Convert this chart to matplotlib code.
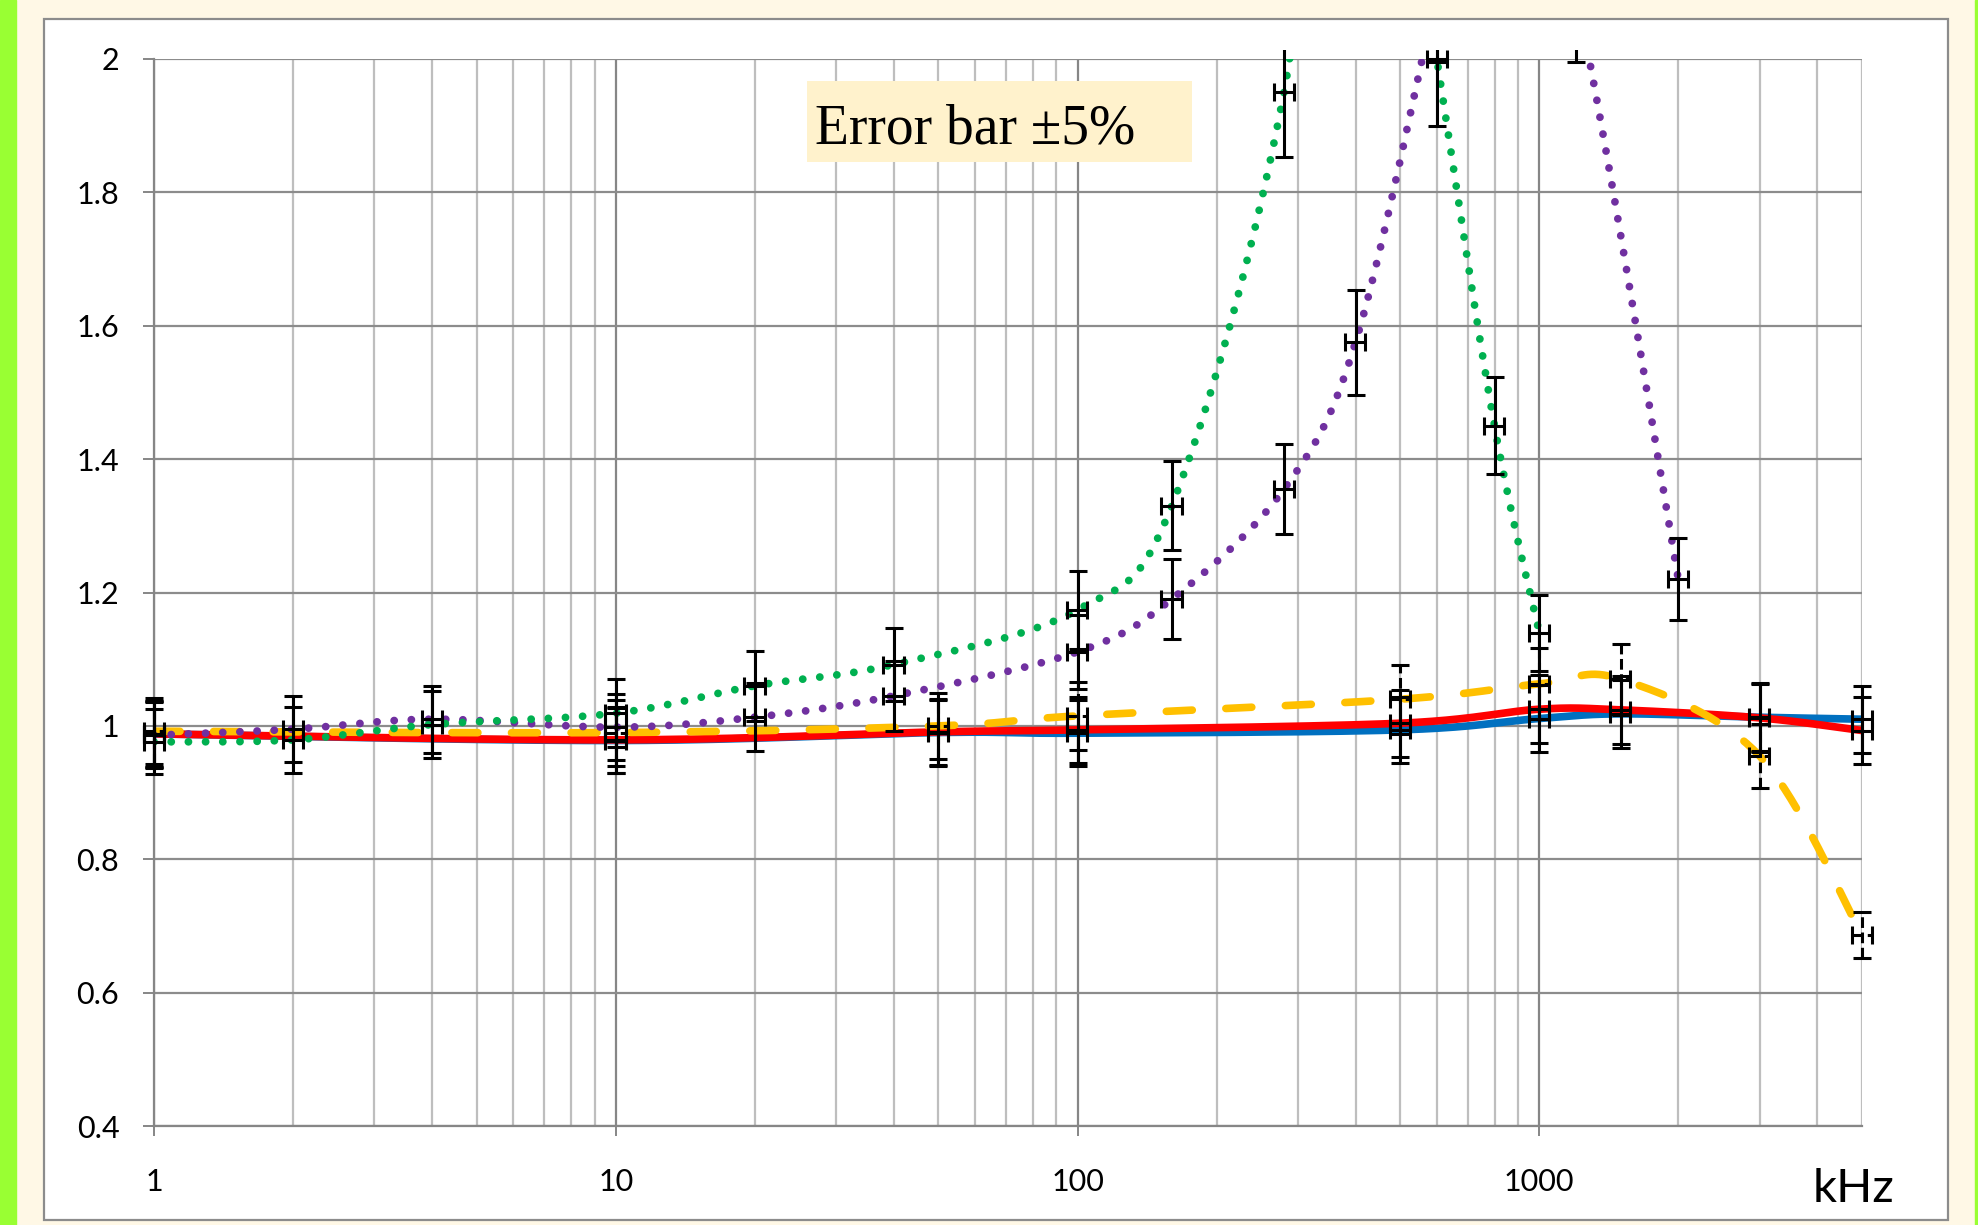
import numpy as np
import matplotlib
matplotlib.use('Agg')
import matplotlib.pyplot as plt
from matplotlib.patches import Rectangle
from matplotlib.ticker import LogLocator, NullFormatter

# frequencies (kHz) and ratios
freq_main = [1, 10, 50, 100, 500, 1000, 1500, 3000, 5000]
blue_vals = [0.988, 0.978, 0.99, 0.989, 0.994, 1.011, 1.018, 1.013, 1.01]
red_vals = [0.988, 0.979, 0.991, 0.994, 1.004, 1.025, 1.024, 1.012, 0.993]
yellow_vals = [0.992, 0.99, 1.0, 1.015, 1.04, 1.063, 1.07, 0.955, 0.686]

freq_green = [1, 2, 4, 10, 20, 40, 100, 160, 280, 400, 600, 800, 1000]
green_vals = [0.976, 0.979, 1.002, 1.019, 1.06, 1.092, 1.174, 1.33, 1.95, 2.8, 2.0, 1.45, 1.14]

freq_purple = [1, 2, 4, 10, 20, 40, 100, 160, 280, 400, 600, 800, 1200, 2000]
purple_vals = [0.986, 0.995, 1.01, 0.998, 1.013, 1.045, 1.111, 1.19, 1.355, 1.575, 2.1, 2.5, 2.1, 1.22]

y_ticks = [0.4, 0.6, 0.8, 1.0, 1.2, 1.4, 1.6, 1.8, 2.0]
y_labels = ['0.4', '0.6', '0.8', '1', '1.2', '1.4', '1.6', '1.8', '2']
x_ticks = [1, 10, 100, 1000]
x_labels = ['1', '10', '100', '1000']

W, H = 1978, 1225
fig = plt.figure(figsize=(W / 100, H / 100), dpi=100, facecolor='#FFF8E6')

# side strips and chart area frame
fig.patches.append(Rectangle((0, 0), 16 / W, 1, transform=fig.transFigure,
                             color='#99FF33', zorder=-2))
fig.patches.append(Rectangle((1975 / W, 0), 3 / W, 1, transform=fig.transFigure,
                             color='#99FF33', zorder=-2))
fig.patches.append(Rectangle((44 / W, 5 / H), 1904 / W, 1201 / H,
                             transform=fig.transFigure, facecolor='white',
                             edgecolor='#8C8C8C', lw=1.6, zorder=-1))

ax = fig.add_axes([154 / W, 1 - 1126 / H, (1862 - 154) / W, (1126 - 59) / H])
ax.set_facecolor('white')
ax.set_xscale('log')
ax.set_xlim(1, 5000)
ax.set_ylim(0.4, 2.0)


def smooth(xs, ys, n=40):
    # Excel-style smoothed line, built in display space
    pts = ax.transData.transform(np.column_stack([xs, ys]))
    p = np.vstack([pts[0], pts, pts[-1]])
    t = np.linspace(0, 1, n)[:, None]
    out = []
    for i in range(1, len(p) - 2):
        p0, p1, p2, p3 = p[i - 1], p[i], p[i + 1], p[i + 2]
        c1 = p1 + (p2 - p0) / 6
        c2 = p2 - (p3 - p1) / 6
        seg = (1 - t) ** 3 * p1 + 3 * (1 - t) ** 2 * t * c1 \
            + 3 * (1 - t) * t ** 2 * c2 + t ** 3 * p2
        out.append(seg if i == 1 else seg[1:])
    curve = ax.transData.inverted().transform(np.vstack(out))
    return curve[:, 0], curve[:, 1]


# grid
ax.xaxis.set_minor_locator(LogLocator(base=10, subs=range(2, 10), numticks=20))
ax.xaxis.set_minor_formatter(NullFormatter())
ax.grid(True, which='major', axis='x', color='#868686', lw=1.6, zorder=0)
ax.grid(True, which='minor', axis='x', color='#BEBEBE', lw=1.6, zorder=0)
ax.grid(True, which='major', axis='y', color='#8C8C8C', lw=1.6, zorder=0)
ax.set_axisbelow(True)

# series
bx, by = smooth(freq_main, blue_vals)
ax.plot(bx, by, color='#0070C0', lw=5.5, solid_capstyle='butt', zorder=3)
rx, ry = smooth(freq_main, red_vals)
ax.plot(rx, ry, color='#FF0000', lw=5.5, solid_capstyle='butt', zorder=4)
yx, yy = smooth(freq_main, yellow_vals)
ax.plot(yx, yy, color='#FFC000', lw=5.5, dashes=(3.4, 4.4),
        dash_capstyle='round', zorder=5)
px, py = smooth(freq_purple, purple_vals)
ax.plot(px, py, color='#7030A0', lw=5.6, dashes=(0.01, 2.2),
        dash_capstyle='round', zorder=6)
gx, gy = smooth(freq_green, green_vals)
ax.plot(gx, gy, color='#00B050', lw=5.6, dashes=(0.01, 2.2),
        dash_capstyle='round', zorder=7)

# +-5% error bars, clipped only at top and bottom of the plot area
clip_rect = Rectangle((-0.05, -0.02), 1.1, 1.02 + 9 / 1067,
                      transform=ax.transAxes, visible=False)
ax.add_patch(clip_rect)
for fx, vals, dashed in [(freq_main, blue_vals, False),
                         (freq_main, red_vals, False),
                         (freq_main, yellow_vals, True),
                         (freq_purple, purple_vals, False),
                         (freq_green, green_vals, False)]:
    fx = np.array(fx, dtype=float)
    vals = np.array(vals)
    eb = ax.errorbar(fx, vals, yerr=0.05 * vals, xerr=0.05 * fx, fmt='none',
                     ecolor='black', elinewidth=2.2, capsize=6.5, capthick=2.2,
                     zorder=8)
    for art in list(eb.lines[1]) + list(eb.lines[2]):
        art.set_clip_path(clip_rect)
    if dashed:
        for lc in eb.lines[2]:
            lc.set_linestyle((0, (3.5, 1.5)))

# axes styling
for s in ['top', 'right']:
    ax.spines[s].set_visible(False)
for s in ['left', 'bottom']:
    ax.spines[s].set_color('#868686')
    ax.spines[s].set_linewidth(1.6)
    ax.spines[s].set_zorder(1)

ax.set_yticks(y_ticks, y_labels)
ax.set_xticks(x_ticks, x_labels)
ax.tick_params(axis='y', which='major', length=8, width=1.4, color='#868686',
               pad=17, labelsize=22)
ax.tick_params(axis='x', which='major', length=7, width=1.4, color='#868686',
               pad=23, labelsize=22)
ax.tick_params(axis='x', which='minor', length=0)
for lab in ax.get_xticklabels() + ax.get_yticklabels():
    lab.set_fontfamily('Lato')

fig.text(1853 / W, 1 - 1202 / H, 'kHz', ha='center', va='baseline',
         fontsize=34, family='Lato')

# note box
fig.patches.append(Rectangle((807 / W, 1 - 162 / H), 385 / W, 81 / H,
                             transform=fig.transFigure, facecolor='#FFF2CC',
                             edgecolor='none', zorder=5))
fig.text(815 / W, 1 - 143 / H, 'Error bar ±5%', ha='left', va='baseline',
         fontsize=40, family='Liberation Serif', zorder=6)

fig.savefig('out.png', dpi=100, facecolor=fig.get_facecolor())
